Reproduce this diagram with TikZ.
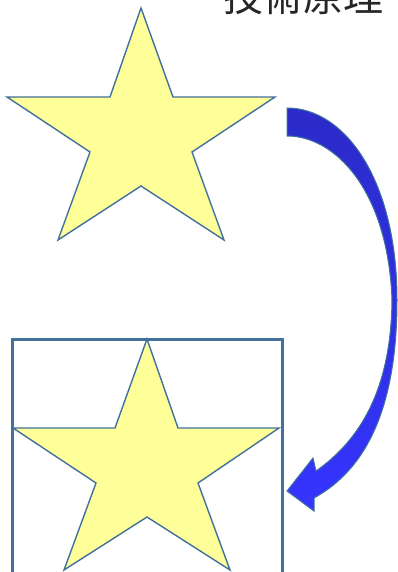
\documentclass[tikz,border=0pt]{standalone}
\usepackage{fontspec}
\newfontfamily\cjk{Noto Sans CJK TC}
\definecolor{edgeblue}{HTML}{41719C}
\definecolor{starfill}{HTML}{FFFF99}
\definecolor{arrowtop}{HTML}{2B2BC8}
\definecolor{arrowbot}{HTML}{3434FF}
\tikzset{
  starshape/.style={draw=edgeblue, fill=starfill, line width=1.4pt, line join=miter},
  framebox/.style={draw=edgeblue, line width=3pt},
  bigarrow/.style={draw=edgeblue, line width=1pt, top color=arrowtop, bottom color=arrowbot},
  title/.style={font=\cjk\fontsize{40}{40}\selectfont, text=black!85, inner sep=0pt}
}
\begin{document}
\begin{tikzpicture}[x=1pt,y=-1pt]
\useasboundingbox (0,0) rectangle (398,572);
\clip (0,0) rectangle (398,572);
\node[title, anchor=base] (t) at (303,12) {技術原理};
% upper star
\draw[starshape] (141,8) -- (173,97) -- (275,97) -- (192,152) -- (224,240) -- (141,186)
  -- (58,240) -- (90,152) -- (7,97) -- (110,97) -- cycle;
% frame and lower star
\draw[framebox] (12,339) rectangle (282,574);
\draw[starshape] (147,339) -- (178,428) -- (279,428) -- (198,483) -- (230,570) -- (147,517)
  -- (64,570) -- (96,483) -- (13,428) -- (115,428) -- cycle;
% curved block arrow
\draw[bigarrow] (287,108) .. controls (345,108) and (397,180) .. (397,300)
  .. controls (397,410) and (365,470) .. (314,498)
  -- (314,511) -- (287,491) -- (313,458) -- (316,471)
  .. controls (360,440) and (391,390) .. (392,300)
  .. controls (388,190) and (335,136) .. (287,136) -- cycle;
\end{tikzpicture}
\end{document}
